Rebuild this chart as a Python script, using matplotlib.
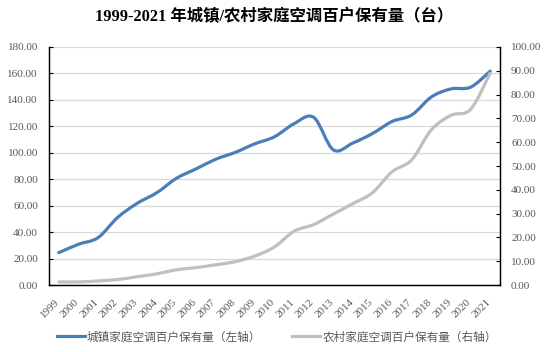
import numpy as np
import matplotlib
matplotlib.use("Agg")
import matplotlib.pyplot as plt
from matplotlib.path import Path
from matplotlib.patches import PathPatch
from matplotlib.lines import Line2D
from matplotlib.ticker import MultipleLocator, FormatStrFormatter
from matplotlib.transforms import ScaledTranslation

# data: air conditioners per 100 households
years = [str(y) for y in range(1999, 2022)]
urban = [24.48, 30.8, 35.8, 51.1, 61.8, 69.8, 80.7, 87.8, 95.1, 100.3, 106.8,
         112.1, 122.0, 126.8, 102.2, 107.4, 114.6, 123.7, 128.6, 142.2, 148.3,
         149.6, 161.7]
rural = [1.3, 1.3, 1.7, 2.3, 3.5, 4.7, 6.4, 7.3, 8.5, 9.8, 12.2,
         16.0, 22.6, 25.4, 29.8, 34.2, 38.8, 47.6, 52.6, 65.2, 71.3,
         73.8, 89.0]

title = "1999-2021 年城镇/农村家庭空调百户保有量（台）"
label_urban = "城镇家庭空调百户保有量（左轴）"
label_rural = "农村家庭空调百户保有量（右轴）"

blue = "#4a7ebb"
grey = "#bfbfbf"
tick_col = "#595959"
num_font = ["Liberation Serif", "Noto Sans CJK SC"]
cjk_font = ["Noto Sans CJK SC", "DejaVu Sans"]


def smooth_path(x, y):
    """Catmull-Rom style smoothed path (like Excel's smoothed line)."""
    pts = np.column_stack([x, y]).astype(float)
    n = len(pts)
    verts = [pts[0]]
    codes = [Path.MOVETO]
    for i in range(n - 1):
        p0 = pts[i - 1] if i > 0 else pts[i]
        p1 = pts[i]
        p2 = pts[i + 1]
        p3 = pts[i + 2] if i + 2 < n else pts[i + 1]
        c1 = p1 + (p2 - p0) / 6.0
        c2 = p2 - (p3 - p1) / 6.0
        verts += [c1, c2, p2]
        codes += [Path.CURVE4] * 3
    return Path(verts, codes)


fig = plt.figure(figsize=(5.48, 3.52), dpi=100)
ax = fig.add_axes([0.0894, 0.1903, 0.8230, 0.6762])
ax2 = ax.twinx()

x = np.arange(len(years))

ax.add_patch(PathPatch(smooth_path(x, urban), fill=False, edgecolor=blue,
                       lw=2.3, capstyle="round", joinstyle="round", zorder=3))
ax2.add_patch(PathPatch(smooth_path(x, rural), fill=False, edgecolor=grey,
                        lw=2.3, capstyle="round", joinstyle="round", zorder=3))

ax.set_xlim(-0.5, len(years) - 0.5)
ax.set_ylim(0, 180)
ax2.set_ylim(0, 100)
ax.yaxis.set_major_locator(MultipleLocator(20))
ax2.yaxis.set_major_locator(MultipleLocator(10))
ax.yaxis.set_major_formatter(FormatStrFormatter("%.2f"))
ax2.yaxis.set_major_formatter(FormatStrFormatter("%.2f"))

ax.set_xticks(x)
ax.set_xticklabels(years, rotation=45, ha="right", rotation_mode="anchor")
ax.tick_params(axis="x", length=0, pad=9)
ax.tick_params(axis="y", direction="in", length=3, color="black", pad=8)
ax2.tick_params(axis="y", direction="in", length=3, color="black", pad=8)

shift = ScaledTranslation(-4 / 100, 0, fig.dpi_scale_trans)
for lbl in ax.get_xticklabels():
    lbl.set_transform(lbl.get_transform() + shift)

for a in (ax, ax2):
    for lbl in a.get_xticklabels() + a.get_yticklabels():
        lbl.set_family(num_font)
        lbl.set_fontsize(8)
        lbl.set_color(tick_col)

ax.yaxis.grid(True, color="#d9d9d9", lw=0.9)
ax.set_axisbelow(True)
for a in (ax, ax2):
    a.spines["top"].set_visible(False)
    for s in ("left", "right", "bottom"):
        a.spines[s].set_color("black")
        a.spines[s].set_linewidth(0.9)

fig.text(0.5, 0.952, title, ha="center", va="center", fontsize=11.8,
         fontweight="bold", family=num_font, color="black")

handles = [Line2D([], [], color=blue, lw=2.3),
           Line2D([], [], color=grey, lw=2.3)]
fig.legend(handles, [label_urban, label_rural], loc="center",
           bbox_to_anchor=(0.505, 0.043), ncol=2, frameon=False,
           prop={"family": cjk_font, "size": 8.4}, labelcolor=tick_col,
           handlelength=2.4, handletextpad=0.15, columnspacing=2.7)

fig.savefig("out.png", dpi=100)
